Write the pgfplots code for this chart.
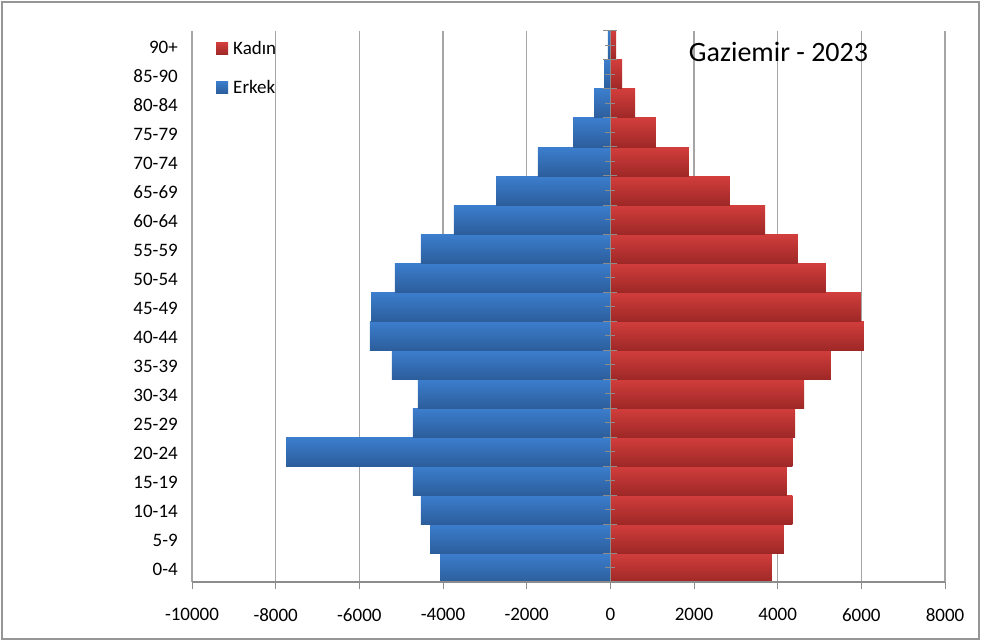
\documentclass[border=0pt]{standalone}
\usepackage{fontspec}
\setmainfont{Carlito}
\usepackage{pgfplots}
\usepackage{pgfplotstable}
\pgfplotsset{compat=1.18}
\definecolor{redtop}{RGB}{210,62,60}
\definecolor{redbot}{RGB}{158,40,39}
\definecolor{bluetop}{RGB}{60,126,206}
\definecolor{bluebot}{RGB}{44,94,156}
\definecolor{gridgray}{RGB}{165,165,165}
\definecolor{axgray}{RGB}{140,140,140}
\definecolor{framegray}{RGB}{150,150,150}

\pgfplotstableread{
idx male female
0 -4070 3860
1 -4310 4150
2 -4530 4350
3 -4720 4220
4 -7750 4350
5 -4720 4420
6 -4600 4630
7 -5220 5270
8 -5750 6060
9 -5720 5990
10 -5150 5150
11 -4530 4480
12 -3740 3700
13 -2730 2860
14 -1730 1880
15 -890 1090
16 -390 590
17 -150 280
18 -60 140
}\pyr

\begin{document}
\begin{tikzpicture}[x=1pt,y=1pt]
\path[use as bounding box] (0,0) rectangle (981,641);
\draw[framegray, line width=1.2pt] (2,2) rectangle (979,639);
\begin{axis}[
  at={(192pt,59pt)}, anchor=south west,
  scale only axis, width=753pt, height=551pt,
  xmin=-10000, xmax=8000, ymin=-0.5, ymax=18.5,
  xbar, bar width=1, bar shift=0pt,
  scaled x ticks=false,
  xtick={-10000,-8000,-6000,-4000,-2000,0,2000,4000,6000,8000},
  xticklabels={-10000,-8000,-6000,-4000,-2000,0,2000,4000,6000,8000},
  ytick={0,...,18},
  yticklabels={0-4,5-9,10-14,15-19,20-24,25-29,30-34,35-39,40-44,45-49,50-54,55-59,60-64,65-69,70-74,75-79,80-84,85-90,90+},
  axis line style={draw=none},
  xmajorgrids, grid style={gridgray, line width=1.3pt},
  tick align=outside, xtick pos=bottom, major tick length=7pt,
  xtick style={axgray, line width=1pt},
  ytick style={draw=none},
  xticklabel style={font=\fontsize{19}{22}\selectfont, inner sep=0pt, yshift=-19pt},
  yticklabel style={font=\fontsize{19}{22}\selectfont, inner sep=0pt, anchor=east, xshift=-7pt, yshift=-1.5pt},
  legend style={at={(0.0319,0.982)}, anchor=north west, draw=none, fill=none,
    font=\fontsize{19}{22}\selectfont, inner sep=0pt, row sep=24pt,
    nodes={inner sep=0pt}, column sep=5pt},
  legend image code/.code={\fill[#1] (0pt,-6pt) rectangle (12pt,6pt);},
  legend cell align=left,
]
\addlegendimage{draw=none, top color=redtop, bottom color=redbot}
\addlegendentry{Kadın}
\addlegendimage{draw=none, top color=bluetop, bottom color=bluebot}
\addlegendentry{Erkek}
\pgfplotsinvokeforeach{0,...,18}{
  \addplot[draw=none, top color=redtop, bottom color=redbot, forget plot,
    restrict y to domain=#1:#1]
    table[x=female, y=idx] {\pyr};
  \addplot[draw=none, top color=bluetop, bottom color=bluebot, forget plot,
    restrict y to domain=#1:#1]
    table[x=male, y=idx] {\pyr};
}
\end{axis}
\draw[axgray, line width=1.2pt] (192,59) -- (945,59);
\draw[axgray, line width=1.2pt] (610.33,59) -- (610.33,610);
\foreach \k in {0,...,19} \draw[axgray, line width=1pt] (603.3,59+29*\k) -- (617.3,59+29*\k);
\foreach \k in {0,...,18} \draw[axgray, line width=1pt] (605.3,73.5+29*\k) -- (615.3,73.5+29*\k);
\node[font=\fontsize{28}{32}\selectfont] at (778.5,589) {Gaziemir - 2023};
\end{tikzpicture}
\end{document}
